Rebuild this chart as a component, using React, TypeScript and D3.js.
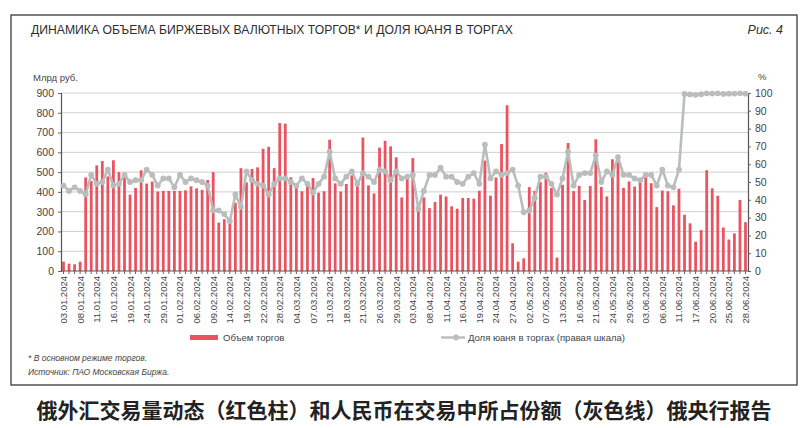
import React, { Component } from "react";
import * as d3 from "d3";

// exchange FX volume, bn rub (main trading mode), one value per trading day 03.01–28.06.2024
const volume = [
  47, 37, 34, 47, 473, 455, 534, 556, 478, 560, 500, 485, 386, 420, 509, 442, 452, 402, 405, 405,
  405, 405, 408, 428, 418, 410, 460, 500, 245, 262, 238, 345, 520, 448, 516, 524, 618, 628, 520, 748,
  745, 474, 430, 403, 450, 470, 396, 403, 664, 443, 402, 440, 484, 456, 675, 433, 392, 624, 658, 630,
  575, 372, 470, 571, 302, 372, 318, 349, 386, 377, 327, 315, 369, 369, 366, 406, 558, 381, 473, 642,
  838, 140, 47, 64, 424, 405, 449, 497, 420, 68, 436, 647, 404, 430, 359, 430, 666, 425, 377, 565,
  566, 420, 453, 427, 457, 478, 444, 323, 407, 403, 332, 416, 284, 241, 148, 207, 510, 418, 380, 220,
  159, 190, 359, 247,
];

// yuan share in trading, %
const yuanShare = [
  48, 45, 47, 45, 43, 54, 49, 50, 57, 48, 49, 54, 50, 51, 51, 57, 54, 48, 52, 52,
  47, 54, 50, 52, 51, 50, 48, 34, 34, 32, 28, 43, 36, 56, 51, 49, 48, 43, 49, 52,
  52, 50, 48, 52, 49, 44, 49, 53, 67, 52, 49, 53, 56, 49, 55, 53, 50, 57, 56, 51,
  56, 52, 53, 54, 35, 45, 54, 54, 58, 53, 53, 50, 49, 53, 55, 49, 71, 52, 56, 54,
  55, 57, 48, 33, 34, 41, 53, 53, 49, 43, 52, 67, 48, 54, 55, 55, 65, 50, 56, 54,
  64, 54, 54, 52, 51, 54, 54, 48, 57, 48, 47, 57, 99.5, 99.2, 99, 99.3, 99.8, 99.7, 99.8, 99.5,
  99.6, 99.7, 99.8, 99.6,
];

// axis labels, every third trading day
const dateLabels = [
  "03.01.2024", "08.01.2024", "11.01.2024", "16.01.2024", "19.01.2024", "24.01.2024", "29.01.2024",
  "01.02.2024", "06.02.2024", "09.02.2024", "14.02.2024", "19.02.2024", "22.02.2024", "28.02.2024",
  "04.03.2024", "07.03.2024", "13.03.2024", "18.03.2024", "21.03.2024", "26.03.2024", "29.03.2024",
  "03.04.2024", "08.04.2024", "11.04.2024", "16.04.2024", "19.04.2024", "24.04.2024", "27.04.2024",
  "02.05.2024", "07.05.2024", "13.05.2024", "16.05.2024", "21.05.2024", "24.05.2024", "29.05.2024",
  "03.06.2024", "06.06.2024", "11.06.2024", "17.06.2024", "20.06.2024", "25.06.2024", "28.06.2024",
];

const leftTicks = [0, 100, 200, 300, 400, 500, 600, 700, 800, 900];
const rightTicks = [0, 10, 20, 30, 40, 50, 60, 70, 80, 90, 100];

const RED = "#ea535f";
const GREY = "#b9bdbb";
const FONT = "'Liberation Sans', Arial, sans-serif";

export default class App extends Component {
  myRef: React.RefObject<SVGSVGElement> = React.createRef();

  componentDidMount() {
    const svg = d3.select(this.myRef.current);
    svg.selectAll("*").remove();

    const left = 61, right = 748, top = 93, bottom = 271;

    const x = d3.scaleBand<number>()
      .domain(volume.map((_, i) => i))
      .range([left, right])
      .paddingInner(0.5)
      .paddingOuter(0.2);
    const bw = x.bandwidth();
    const cx = (i: number) => (x(i) as number) + bw / 2;
    const yL = d3.scaleLinear().domain([0, 900]).range([bottom, top]);
    const yR = d3.scaleLinear().domain([0, 100]).range([bottom, top]);

    svg.append("rect").attr("width", 800).attr("height", 428).attr("fill", "#fff");

    // frame
    svg.append("rect")
      .attr("x", 11).attr("y", 15).attr("width", 786).attr("height", 370)
      .attr("fill", "none").attr("stroke", "#3a3a3a").attr("stroke-width", 1.3);

    svg.append("text")
      .attr("x", 31).attr("y", 34)
      .attr("font-family", FONT).attr("font-size", 12.5).attr("fill", "#2e2e2e")
      .attr("textLength", 482).attr("lengthAdjust", "spacingAndGlyphs")
      .text("ДИНАМИКА ОБЪЕМА БИРЖЕВЫХ ВАЛЮТНЫХ ТОРГОВ* И ДОЛЯ ЮАНЯ В ТОРГАХ");
    svg.append("text")
      .attr("x", 783).attr("y", 34).attr("text-anchor", "end")
      .attr("font-family", FONT).attr("font-size", 12.5).attr("font-style", "italic")
      .attr("fill", "#333").text("Рис. 4");

    // grid
    svg.append("g").selectAll("line").data(leftTicks.slice(1)).enter().append("line")
      .attr("x1", left).attr("x2", right)
      .attr("y1", (d) => yL(d)).attr("y2", (d) => yL(d))
      .attr("stroke", "#cfcfcf").attr("stroke-width", 1);

    // bars
    svg.append("g").selectAll("rect").data(volume).enter().append("rect")
      .attr("x", (d, i) => x(i) as number)
      .attr("width", bw)
      .attr("y", (d) => yL(d))
      .attr("height", (d) => bottom - yL(d))
      .attr("fill", RED);

    // axes
    const axL = svg.append("g").attr("transform", `translate(${left},0)`)
      .call(d3.axisLeft(yL).tickValues(leftTicks).tickSize(3).tickPadding(4));
    const axR = svg.append("g").attr("transform", `translate(${right},0)`)
      .call(d3.axisRight(yR).tickValues(rightTicks).tickSize(3).tickPadding(4));
    const axB = svg.append("g").attr("transform", `translate(0,${bottom})`)
      .call(d3.axisBottom(x).tickSize(3).tickFormat(() => ""));
    [axL, axR, axB].forEach((g) => {
      g.select(".domain").attr("stroke", "#555").attr("stroke-width", 1.2);
      g.selectAll(".tick line").attr("stroke", "#666");
      g.selectAll("text").attr("font-family", FONT).attr("font-size", 10.5).attr("fill", "#444");
    });
    axB.select(".domain").attr("d", `M${left},0H${right}`);

    // date labels
    svg.append("g").selectAll("text").data(dateLabels).enter().append("text")
      .attr("transform", (d, k) => `translate(${cx(k * 3) + 3.5},${bottom + 5}) rotate(-90)`)
      .attr("text-anchor", "end")
      .attr("font-family", FONT).attr("font-size", 9.5).attr("fill", "#444")
      .text((d) => d);

    svg.append("text").attr("x", 33).attr("y", 81)
      .attr("font-family", FONT).attr("font-size", 9.5).attr("fill", "#444").text("Млрд руб.");
    svg.append("text").attr("x", 758).attr("y", 80)
      .attr("font-family", FONT).attr("font-size", 9.5).attr("fill", "#444").text("%");

    // yuan share line
    const line = d3.line<number>().x((d, i) => cx(i)).y((d) => yR(d));
    svg.append("path").datum(yuanShare)
      .attr("d", line).attr("fill", "none")
      .attr("stroke", GREY).attr("stroke-width", 2.6).attr("stroke-linejoin", "round");
    svg.append("g").selectAll("circle").data(yuanShare).enter().append("circle")
      .attr("cx", (d, i) => cx(i)).attr("cy", (d) => yR(d)).attr("r", 2.9)
      .attr("fill", GREY);

    // legend
    svg.append("rect").attr("x", 190).attr("y", 335).attr("width", 28).attr("height", 5).attr("fill", RED);
    svg.append("text").attr("x", 223).attr("y", 341)
      .attr("font-family", FONT).attr("font-size", 9.5).attr("fill", "#444").text("Объем торгов");
    svg.append("line").attr("x1", 441).attr("x2", 465).attr("y1", 337.5).attr("y2", 337.5)
      .attr("stroke", GREY).attr("stroke-width", 2.4);
    svg.append("circle").attr("cx", 456).attr("cy", 337.5).attr("r", 2.9).attr("fill", GREY);
    svg.append("text").attr("x", 468).attr("y", 341)
      .attr("font-family", FONT).attr("font-size", 9.5).attr("fill", "#444")
      .text("Доля юаня в торгах (правая шкала)");

    // notes
    svg.append("text").attr("x", 28).attr("y", 361)
      .attr("font-family", FONT).attr("font-size", 8.5).attr("font-style", "italic").attr("fill", "#444")
      .text("* В основном режиме торгов.");
    svg.append("text").attr("x", 28).attr("y", 375)
      .attr("font-family", FONT).attr("font-size", 8.5).attr("font-style", "italic").attr("fill", "#444")
      .text("Источник: ПАО Московская Биржа.");

    svg.append("text").attr("x", 404).attr("y", 418).attr("text-anchor", "middle")
      .attr("font-family", "'Noto Sans CJK SC', sans-serif").attr("font-size", 21)
      .attr("font-weight", "bold").attr("fill", "#222")
      .text("俄外汇交易量动态（红色柱）和人民币在交易中所占份额（灰色线）俄央行报告");
  }

  render() {
    return (
      <svg ref={this.myRef} width={800} height={428}
           style={{ position: "absolute", left: 0, top: 0, display: "block" }}>
      </svg>
    );
  }
}
